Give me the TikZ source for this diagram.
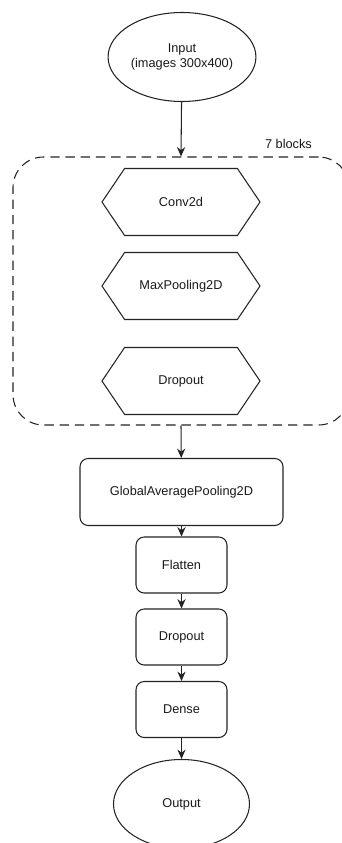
\documentclass[tikz,border=0pt]{standalone}
\usepackage{fontspec}
\setmainfont{Liberation Sans}
\usetikzlibrary{arrows.meta,positioning,shapes.geometric,shapes.symbols}
\definecolor{lineInk}{RGB}{35,35,35}
\definecolor{textInk}{RGB}{25,25,25}

\begin{document}
\begin{tikzpicture}[x=0.03cm,y=-0.03cm,font=\fontsize{10.9}{13}\selectfont,
    text=textInk,
    io/.style={ellipse,draw=lineInk,line width=0.9pt,minimum width=4.08cm,
               minimum height=2.67cm,align=center,inner sep=1pt},
    blk/.style={signal,signal to=east and west,signal pointer angle=112,
                draw=lineInk,line width=0.9pt,minimum width=4.74cm,
                minimum height=2.01cm,inner sep=1pt},
    box/.style={rounded corners=7pt,draw=lineInk,line width=0.9pt,
                minimum height=1.68cm,minimum width=2.73cm,align=center},
    arr/.style={draw=lineInk,line width=0.9pt,-{Stealth[length=8pt,width=7pt]}}]

    \useasboundingbox (0,0) rectangle (342,843);

    % input and the repeated block
    \node[io] (in) at (182,57) {Input\\(images 300x400)};
    \node[draw=lineInk,line width=0.9pt,dash pattern=on 8pt off 5pt,
          rounded corners=26pt,minimum width=10.08cm,minimum height=8.04cm]
          (blocks) at (181,291) {};
    \node[anchor=south east] (reps) at (316,153) {7 blocks};

    \node[blk] (conv) at (181,202) {Conv2d};
    \node[blk] (pool) at (181,286) {MaxPooling2D};
    \node[blk] (drop) at (181,381) {Dropout};

    % head of the network
    \node[box,minimum width=6.09cm,minimum height=2.01cm] (gap) at (181.5,492)
      {GlobalAveragePooling2D};
    \node[box] (flat) at (181.5,565) {Flatten};
    \node[box] (drop2) at (181.5,637) {Dropout};
    \node[box] (dense) at (181.5,709.5) {Dense};
    \node[io] (out) at (181.5,804) {Output};

    % connectors
    \draw[arr] (in) -- (blocks.north);
    \draw[arr] (blocks.south) -- (gap);
    \draw[arr] (gap) -- (flat);
    \draw[arr] (flat) -- (drop2);
    \draw[arr] (drop2) -- (dense);
    \draw[arr] (dense) -- (out);
  \end{tikzpicture}
\end{document}
